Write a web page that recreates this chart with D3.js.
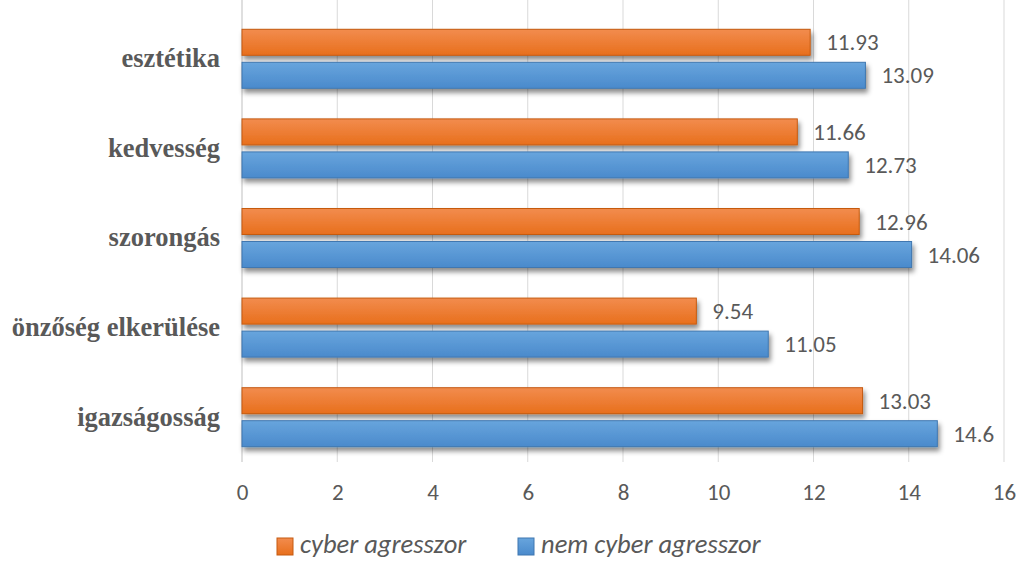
<!DOCTYPE html>
<html>
<head>
<meta charset="utf-8">
<script src="https://cdn.jsdelivr.net/npm/d3@7"></script>
<style>
  body{margin:0;background:#fff;}
</style>
</head>
<body>
<div id="chart"></div>
<script>
// categories, top to bottom
var categories = ['esztétika','kedvesség','szorongás','önzőség elkerülése','igazságosság'];
var seriesNames = ['cyber agresszor','nem cyber agresszor'];
var cyberValues = [11.93, 11.66, 12.96, 9.54, 13.03];
var nemCyberValues = [13.09, 12.73, 14.06, 11.05, 14.6];
var xTicks = [0,2,4,6,8,10,12,14,16];

var width = 1019, height = 561;
var margin = {top:14, right:15, bottom:99, left:242};
var sans = 'Carlito, Calibri, "Liberation Sans", sans-serif';

var svg = d3.select('#chart').append('svg')
  .attr('width', width).attr('height', height);

var defs = svg.append('defs');
function grad(id, c1, c2){
  var g = defs.append('linearGradient').attr('id', id)
    .attr('x1',0).attr('y1',0).attr('x2',0).attr('y2',1);
  g.append('stop').attr('offset','0%').attr('stop-color', c1);
  g.append('stop').attr('offset','100%').attr('stop-color', c2);
}
grad('gOrange', '#f28c4e', '#e86f1c');
grad('gBlue', '#68a5dd', '#4a8acc');
var f = defs.append('filter').attr('id','shadow')
  .attr('x','-5%').attr('y','-30%').attr('width','110%').attr('height','180%');
f.append('feDropShadow').attr('dx',2).attr('dy',4).attr('stdDeviation',2.5)
  .attr('flood-color','#000').attr('flood-opacity',0.45);

var x = d3.scaleLinear().domain([0,16]).range([margin.left, width - margin.right]);
var y = d3.scaleBand().domain(categories).range([margin.top, height - margin.bottom]);

// gridlines
svg.append('g').selectAll('line').data(xTicks).join('line')
  .attr('x1', d => x(d)).attr('x2', d => x(d))
  .attr('y1', 0).attr('y2', height - margin.bottom)
  .attr('stroke', d => d === 0 ? '#bfbfbf' : '#d9d9d9').attr('stroke-width', 1);

// x axis labels
var xAxis = svg.append('g')
  .attr('transform', 'translate(0,' + (height - margin.bottom) + ')')
  .call(d3.axisBottom(x).tickValues(xTicks).tickSize(0).tickPadding(22).tickFormat(d3.format('d')));
xAxis.select('.domain').remove();
xAxis.selectAll('text')
  .attr('font-family', sans)
  .attr('font-size', 23).attr('fill', '#595959');

// y axis labels
var yAxis = svg.append('g')
  .attr('transform', 'translate(' + (margin.left - 22) + ',0)')
  .call(d3.axisLeft(y).tickSize(0).tickPadding(0));
yAxis.select('.domain').remove();
yAxis.selectAll('text')
  .attr('font-family', '"Liberation Serif", "Times New Roman", serif')
  .attr('font-weight', 'bold').attr('font-size', 26.5).attr('fill', '#595959');

var barH = 26, gap = 7;
var series = [
  {name: seriesNames[0], values: cyberValues, fill: 'url(#gOrange)', stroke: '#c55a11', off: -gap/2 - barH},
  {name: seriesNames[1], values: nemCyberValues, fill: 'url(#gBlue)', stroke: '#3f77b0', off: gap/2}
];

series.forEach(function(s){
  var g = svg.append('g');
  g.selectAll('rect').data(s.values).join('rect')
    .attr('x', x(0))
    .attr('y', (d,i) => y(categories[i]) + y.bandwidth()/2 + s.off)
    .attr('width', d => x(d) - x(0))
    .attr('height', barH)
    .attr('fill', s.fill)
    .attr('stroke', s.stroke).attr('stroke-width', 1)
    .attr('filter', 'url(#shadow)');
  g.selectAll('text').data(s.values).join('text')
    .attr('x', d => x(d) + 16)
    .attr('y', (d,i) => y(categories[i]) + y.bandwidth()/2 + s.off + barH/2 + 8)
    .attr('font-family', sans)
    .attr('font-size', 23).attr('fill', '#595959')
    .text(d => d);
});

// legend
var legend = svg.append('g').attr('transform', 'translate(277,553)');
var lx = [0, 241];
series.forEach(function(s, i){
  var lg = legend.append('g').attr('transform', 'translate(' + lx[i] + ',0)');
  lg.append('rect').attr('x', 0).attr('y', -15).attr('width', 16).attr('height', 17)
    .attr('fill', s.fill).attr('stroke', s.stroke);
  lg.append('text').attr('x', 23).attr('y', 0)
    .attr('font-family', sans)
    .attr('font-style', 'italic').attr('font-size', 26.5).attr('fill', '#595959')
    .text(s.name);
});
</script>
</body>
</html>
